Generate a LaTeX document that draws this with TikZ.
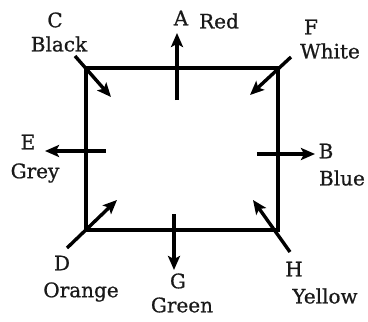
\documentclass[tikz,border=0pt]{standalone}
\usepackage{fontspec}
\setmainfont[FakeBold=0.8]{DejaVu Serif}
\usetikzlibrary{arrows.meta}
\begin{document}
\begin{tikzpicture}[x=1pt,y=-1pt,
  edge/.style={line width=3.4pt},
  arr/.style={line width=3.4pt,-{Stealth[length=14pt,width=12pt,inset=3pt]}},
  lbl/.style={font=\fontsize{20}{22}\selectfont,text=black!90,inner sep=0pt}]
\useasboundingbox (0,0) rectangle (368,322);
% square corners
\coordinate (tl) at (86,68);
\coordinate (tr) at (278,68);
\coordinate (bl) at (86,230);
\coordinate (br) at (278,230);
\draw[edge,line join=miter] (tl) -- (tr) -- (br) -- (bl) -- cycle;
% arrow end points
\coordinate (a0) at (177,100); \coordinate (a1) at (177,33);
\coordinate (c0) at (75,56);   \coordinate (c1) at (111,97);
\coordinate (f0) at (291,57);  \coordinate (f1) at (250,95);
\coordinate (e0) at (106,151); \coordinate (e1) at (45,151);
\coordinate (b0) at (257,154); \coordinate (b1) at (315,154);
\coordinate (d0) at (67,248);  \coordinate (d1) at (117,200);
\coordinate (g0) at (174,214); \coordinate (g1) at (174,270);
\coordinate (h0) at (290,252); \coordinate (h1) at (253,200);
\draw[arr] (a0) -- (a1);
\draw[arr] (c0) -- (c1);
\draw[arr] (f0) -- (f1);
\draw[arr] (e0) -- (e1);
\draw[arr] (b0) -- (b1);
\draw[arr] (d0) -- (d1);
\draw[arr] (g0) -- (g1);
\draw[arr] (h0) -- (h1);
% labels
\node[lbl] (lA) at (181,18) {A};
\node[lbl] (lRed) at (219,21) {Red};
\node[lbl] (lC) at (55,20) {C};
\node[lbl] (lBlack) at (59,44) {Black};
\node[lbl] (lF) at (311,27) {F};
\node[lbl] (lWhite) at (330,51) {White};
\node[lbl] (lE) at (28,142) {E};
\node[lbl] (lGrey) at (35,173) {Grey};
\node[lbl] (lB) at (326,151) {B};
\node[lbl] (lBlue) at (342,178) {Blue};
\node[lbl] (lD) at (62,263) {D};
\node[lbl] (lOrange) at (81,292) {Orange};
\node[lbl] (lG) at (178,281) {G};
\node[lbl] (lGreen) at (182,305) {Green};
\node[lbl] (lH) at (294,269) {H};
\node[lbl] (lYellow) at (325,296) {Yellow};
\end{tikzpicture}
\end{document}
